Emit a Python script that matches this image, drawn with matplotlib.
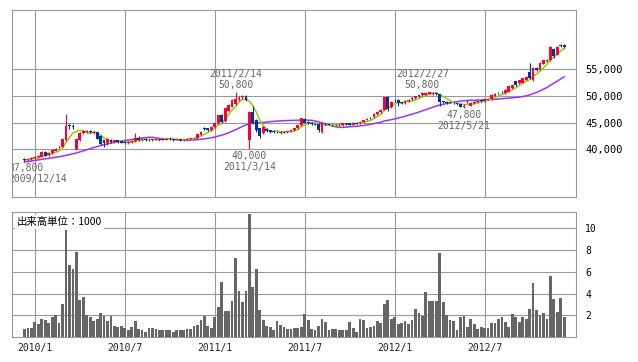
import numpy as np
import pandas as pd
import matplotlib
matplotlib.use('Agg')
import matplotlib.pyplot as plt

# weekly candles, first week 2009/12/14 (yen)
start_week = '2009-12-14'

opens = [38100, 37900, 38100, 38300, 38500, 38600, 39400, 38900, 39300, 39700,
         40500, 40500, 41800, 44500, 44300, 40000, 41800, 43000, 43200, 43400,
         43100, 43200, 42500, 41700, 41100, 41800, 41300, 41700, 41500, 41300,
         41200, 41300, 41500, 42200, 41800, 42000, 41800, 41700, 41900, 41800,
         41900, 41800, 42000, 41900, 41800, 41900, 41700, 41800, 42000, 42100,
         42100, 42700, 43900, 43900, 43600, 44100, 44900, 46400, 45300, 47200,
         48000, 48500, 49400, 49700, 50000, 41800, 47000, 45500, 43900, 43000,
         43800, 43600, 43400, 43300, 43100, 43300, 43200, 43400, 43600, 43900,
         44500, 45700, 45100, 44900, 44800, 44700, 43300, 44800, 44700, 44600,
         44500, 44600, 44500, 44900, 44900, 44600, 45000, 44900, 45200, 45500,
         45900, 46000, 46600, 47000, 47400, 49800, 48000, 49300, 49200, 48800,
         48600, 49000, 49600, 49600, 50100, 50100, 50200, 50400, 50300, 50600,
         50300, 49000, 48900, 48800, 48700, 48600, 48500, 47900, 48900, 48200,
         48600, 48800, 49200, 49000, 49300, 49400, 50000, 50600, 50800, 50500,
         50800, 51400, 52700, 52400, 52500, 53000, 54500, 53000, 55200, 54900,
         56000, 56500, 56700, 58800, 57700, 59500, 59600]

highs = [38300, 38300, 38500, 38800, 38900, 39600, 39600, 39500, 39900, 40300,
         40700, 42000, 46700, 44800, 44700, 42000, 43300, 43600, 43700, 43600,
         43500, 43300, 42700, 41800, 42100, 41900, 41800, 41800, 41600, 41500,
         41600, 41700, 43000, 42400, 42200, 42100, 42000, 42000, 42000, 42100,
         42000, 42100, 42300, 42000, 42000, 42000, 41900, 42100, 42200, 42300,
         42900, 43400, 44100, 44000, 44200, 45000, 46500, 46700, 47800, 48500,
         49400, 50800, 50000, 50100, 50200, 47100, 48100, 45700, 44000, 44300,
         44000, 43700, 43600, 43500, 43400, 43500, 43500, 43700, 44000, 44600,
         45900, 45900, 45300, 45100, 44900, 44900, 45000, 44900, 44800, 44700,
         44700, 44700, 45000, 45000, 45000, 45100, 45100, 45300, 45500, 45800,
         46100, 46800, 47100, 47500, 49800, 49900, 49000, 49500, 49400, 48900,
         49200, 49400, 49700, 50000, 50200, 50800, 50700, 50700, 50700, 50700,
         50400, 49100, 49000, 48900, 48800, 48700, 48600, 48400, 49200, 48800,
         49000, 49200, 49300, 49500, 49600, 50300, 50500, 50800, 51000, 51200,
         51900, 52100, 52800, 53000, 53400, 53700, 56100, 55500, 55400, 56300,
         56800, 57000, 59300, 58900, 59300, 59800, 59700]

lows = [37800, 37800, 38000, 38200, 38400, 38500, 38700, 38800, 39200, 39600,
        40200, 40400, 41500, 43800, 43800, 39900, 41600, 42800, 43000, 43000,
        42900, 41900, 40800, 40400, 40800, 41200, 41100, 41200, 41100, 41000,
        41000, 41200, 41400, 41600, 41600, 41600, 41500, 41600, 41700, 41600,
        41700, 41700, 41800, 41600, 41700, 41600, 41500, 41700, 41900, 42000,
        42000, 42600, 43600, 43500, 43500, 44000, 44800, 45000, 45200, 47100,
        47900, 48300, 49100, 49400, 49000, 40000, 44800, 43300, 42200, 42800,
        43200, 43100, 43000, 43000, 42900, 43000, 43100, 43300, 43500, 43800,
        44400, 44900, 44700, 44600, 44500, 43300, 43100, 44500, 44500, 44400,
        44400, 44400, 44400, 44600, 44500, 44500, 44700, 44800, 45100, 45400,
        45700, 45900, 46500, 46800, 47300, 47200, 47800, 48900, 48200, 48500,
        48500, 48900, 49300, 49500, 49800, 49900, 50100, 50300, 50200, 50200,
        48100, 48700, 48500, 48600, 48500, 48300, 47900, 47800, 48600, 48100,
        48500, 48700, 48900, 48900, 49200, 49300, 49900, 50300, 50500, 50400,
        50700, 51300, 51900, 52300, 52400, 52900, 53100, 52700, 54700, 54800,
        55900, 56300, 56600, 57100, 57600, 59200, 59000]

closes = [37900, 38200, 38400, 38600, 38700, 39400, 38800, 39300, 39800, 40000,
          40400, 41900, 44400, 44300, 44200, 41900, 43100, 43400, 43400, 43200,
          43300, 42000, 41000, 41100, 42000, 41300, 41700, 41400, 41200, 41100,
          41400, 41500, 42100, 41800, 42000, 41800, 41700, 41900, 41800, 41900,
          41800, 42000, 41900, 41800, 41900, 41700, 41800, 42000, 42100, 42200,
          42800, 43300, 43800, 43600, 44100, 44900, 46400, 45200, 47700, 48300,
          49200, 49400, 49600, 50000, 49200, 47000, 45000, 43600, 42500, 44100,
          43400, 43300, 43300, 43200, 43300, 43100, 43400, 43600, 43900, 44500,
          45800, 45000, 44900, 44800, 44600, 43600, 44900, 44700, 44600, 44500,
          44600, 44500, 44900, 44700, 44600, 45000, 44800, 45200, 45400, 45700,
          45800, 46700, 47000, 47400, 49700, 47600, 48900, 49200, 48600, 48700,
          49100, 49300, 49400, 49900, 50000, 50500, 50600, 50700, 50600, 50400,
          48900, 48900, 48700, 48700, 48600, 48400, 48000, 48200, 48800, 48700,
          48900, 49100, 49000, 49400, 49500, 50200, 50300, 50500, 50700, 51100,
          51800, 52000, 52000, 52900, 53300, 53600, 53300, 55300, 54900, 56100,
          56700, 56800, 59200, 57500, 59200, 59400, 59200]

# moving averages (short = green, long = purple)
ma_short = [38000, 38050, 38170, 38280, 38360, 38660, 38780, 38960, 39200, 39460,
            39660, 40280, 41300, 42200, 43040, 43340, 43580, 43380, 43200, 43000,
            43280, 43060, 42580, 42120, 41880, 41480, 41420, 41500, 41520, 41340,
            41360, 41320, 41460, 41580, 41760, 41840, 41880, 41840, 41840, 41820,
            41820, 41880, 41880, 41880, 41880, 41860, 41820, 41840, 41900, 41960,
            42180, 42480, 42840, 43140, 43520, 43940, 44560, 44840, 45660, 46500,
            47360, 47960, 48840, 49300, 49480, 49040, 48160, 46960, 45460, 44440,
            43720, 43380, 43320, 43460, 43300, 43240, 43260, 43320, 43460, 43700,
            44240, 44560, 44820, 45000, 45020, 44580, 44560, 44520, 44480, 44460,
            44660, 44580, 44620, 44640, 44660, 44740, 44800, 44860, 45000, 45220,
            45380, 45760, 46120, 46520, 47320, 47680, 48120, 48560, 48800, 48600,
            48900, 48980, 49020, 49280, 49540, 49820, 50080, 50340, 50480, 50560,
            50240, 49900, 49500, 49120, 48760, 48660, 48480, 48380, 48400, 48420,
            48520, 48740, 48900, 49020, 49180, 49440, 49680, 49980, 50240, 50560,
            50880, 51220, 51520, 51960, 52400, 52760, 53020, 53680, 54080, 54640,
            55260, 55960, 56740, 57260, 57880, 58420, 58900]

ma_long = [37600, 37700, 37800, 37900, 38000, 38100, 38200, 38300, 38400, 38500,
           38600, 38700, 38850, 39000, 39150, 39300, 39500, 39700, 39900, 40100,
           40300, 40500, 40700, 40850, 41000, 41150, 41300, 41420, 41530, 41630,
           41730, 41810, 41940, 42030, 42120, 42190, 42240, 42240, 42140, 42050,
           41950, 41960, 41910, 41850, 41790, 41730, 41680, 41680, 41720, 41760,
           41790, 41870, 41950, 42030, 42150, 42290, 42480, 42630, 42840, 43090,
           43370, 43660, 43970, 44280, 44560, 44760, 44880, 44940, 44970, 45050,
           45110, 45170, 45230, 45280, 45320, 45360, 45380, 45390, 45400, 45430,
           45500, 45500, 45440, 45430, 45310, 45130, 44960, 44780, 44590, 44380,
           44200, 44100, 44100, 44140, 44220, 44260, 44310, 44380, 44470, 44560,
           44660, 44800, 44930, 45080, 45300, 45420, 45540, 45700, 45850, 46000,
           46170, 46390, 46560, 46760, 46970, 47200, 47430, 47670, 47890, 48110,
           48270, 48420, 48570, 48710, 48830, 48930, 49020, 49080, 49150, 49200,
           49170, 49220, 49230, 49230, 49270, 49330, 49370, 49420, 49470, 49520,
           49580, 49640, 49700, 49780, 49880, 50010, 50180, 50420, 50660, 50950,
           51260, 51580, 52010, 52370, 52770, 53180, 53580]

# volume in units of 1000 shares
volumes = [0.76, 0.85, 0.85, 1.4, 1.2, 1.7, 1.6, 1.3, 1.8, 2.0,
           1.3, 3.0, 9.9, 6.6, 6.25, 7.8, 3.4, 3.7, 2.0, 1.8,
           1.5, 1.7, 2.2, 1.95, 1.5, 1.95, 1.0, 0.95, 1.0, 0.85,
           0.67, 0.95, 1.5, 0.76, 0.67, 0.5, 0.85, 0.85, 0.76, 0.67,
           0.67, 0.67, 0.6, 0.5, 0.6, 0.6, 0.67, 0.76, 0.76, 1.0,
           1.1, 1.6, 1.95, 1.0, 0.85, 1.8, 2.8, 5.1, 2.4, 2.4,
           3.3, 7.3, 4.2, 3.2, 4.2, 11.3, 4.6, 6.3, 2.5, 1.6,
           1.0, 0.95, 0.6, 1.5, 1.1, 0.95, 0.76, 0.76, 0.85, 0.85,
           0.95, 2.1, 1.6, 0.76, 0.6, 1.0, 1.7, 1.4, 0.67, 0.76,
           0.76, 0.6, 0.67, 0.6, 1.4, 0.85, 0.5, 1.7, 1.6, 0.85,
           0.95, 1.0, 1.5, 1.3, 3.0, 3.4, 1.7, 1.8, 1.2, 1.3,
           1.5, 1.2, 1.6, 2.6, 2.2, 1.95, 4.15, 3.3, 3.3, 3.3,
           7.7, 3.2, 2.0, 1.6, 1.5, 0.67, 1.8, 1.95, 0.95, 1.7,
           1.2, 0.76, 0.95, 0.85, 0.85, 1.3, 1.3, 1.7, 1.85, 1.4,
           0.95, 2.1, 1.8, 1.4, 1.85, 1.7, 2.6, 5.0, 2.5, 2.0,
           2.2, 1.7, 5.6, 3.5, 2.3, 3.6, 1.85]

price_ticks = [40000, 45000, 50000, 55000]
volume_ticks = [2, 4, 6, 8, 10]
volume_title = '出来高単位：1000'
high_marks = [61, 115]
low_marks = [0, 65, 127]

up_col = '#ff0033'
down_col = '#003399'
grid_col = '#999999'

plt.rcParams['font.family'] = ['DejaVu Sans Mono']

weeks = pd.date_range(start_week, periods=len(closes), freq='7D')
x = np.arange(len(closes))
o = np.array(opens)
c = np.array(closes)
h = np.array(highs)
l = np.array(lows)

half_year = [i for i, d in enumerate(weeks) if d.month in (1, 7) and d.day <= 7]
half_year_txt = ['%d/%d' % (weeks[i].year, weeks[i].month) for i in half_year]

W, H = 638, 362
fig = plt.figure(figsize=(W / 100, H / 100), dpi=100)
ax = fig.add_axes([12 / W, 1 - 197 / H, 564 / W, 187 / H])
axv = fig.add_axes([12 / W, 1 - 337 / H, 564 / W, 125 / H])

# moving averages under the candles
ax.plot(x, ma_long, color='#9933ff', lw=1.1, zorder=3)
ax.plot(x, ma_short, color='#99cc00', lw=1.1, zorder=3)

# candles
cols = np.where(c >= o, up_col, down_col)
ax.vlines(x, l, h, colors=cols, lw=0.8, zorder=4)
body = np.maximum(np.abs(c - o), 80)
ax.bar(x, body, bottom=(o + c) / 2 - body / 2, width=0.8, color=cols,
       linewidth=0, zorder=4)

# volume
axv.bar(x, volumes, width=0.8, color='#666666', linewidth=0, zorder=3)

for a in (ax, axv):
    a.set_xlim(-3.6, 159.4)
    a.set_xticks(half_year)
    a.grid(True, color=grid_col, lw=0.8)
    a.set_axisbelow(True)
    a.yaxis.tick_right()
    a.tick_params(length=0, labelsize=7.5, pad=6.5)
    for s in a.spines.values():
        s.set_color(grid_col)
        s.set_linewidth(0.8)

ax.set_ylim(31050, 66100)
ax.set_yticks(price_ticks)
ax.set_yticklabels([f'{v:,}' for v in price_ticks])
ax.set_xticklabels([])

axv.set_ylim(0, 11.52)
axv.set_yticks(volume_ticks)
axv.set_yticklabels([str(v) for v in volume_ticks], fontsize=7)
axv.set_xticklabels(half_year_txt, fontsize=7, color='#222222')
axv.tick_params(axis='x', pad=4)

axv.text(5 / 564, 0.923, volume_title, transform=axv.transAxes, fontsize=7.5,
         family=['Noto Sans CJK JP', 'DejaVu Sans'], ha='left', va='center',
         zorder=5, bbox=dict(facecolor='white', edgecolor='none', pad=1.5))


# price / date markers at highs and lows
def mark(i, value, up):
    d = weeks[i]
    date_txt = '%d/%d/%d' % (d.year, d.month, d.day)
    price_txt = f'{value:,}'
    dx, ha = 0, 'center'
    if i == 0:
        dx, ha = -16, 'left'
    if up:
        offs = [(price_txt, 7), (date_txt, 18)]
    else:
        offs = [(price_txt, -7), (date_txt, -18)]
    for txt, dy in offs:
        t = ax.annotate(txt, (i, value), xytext=(dx, dy), textcoords='offset pixels',
                        ha=ha, va='center', fontsize=7, color='#666666',
                        annotation_clip=False)
        t.set_clip_box(ax.bbox)
        t.set_clip_on(True)


for i in high_marks:
    mark(i, highs[i], True)
for i in low_marks:
    mark(i, lows[i], False)

fig.savefig('out.png', dpi=100)
